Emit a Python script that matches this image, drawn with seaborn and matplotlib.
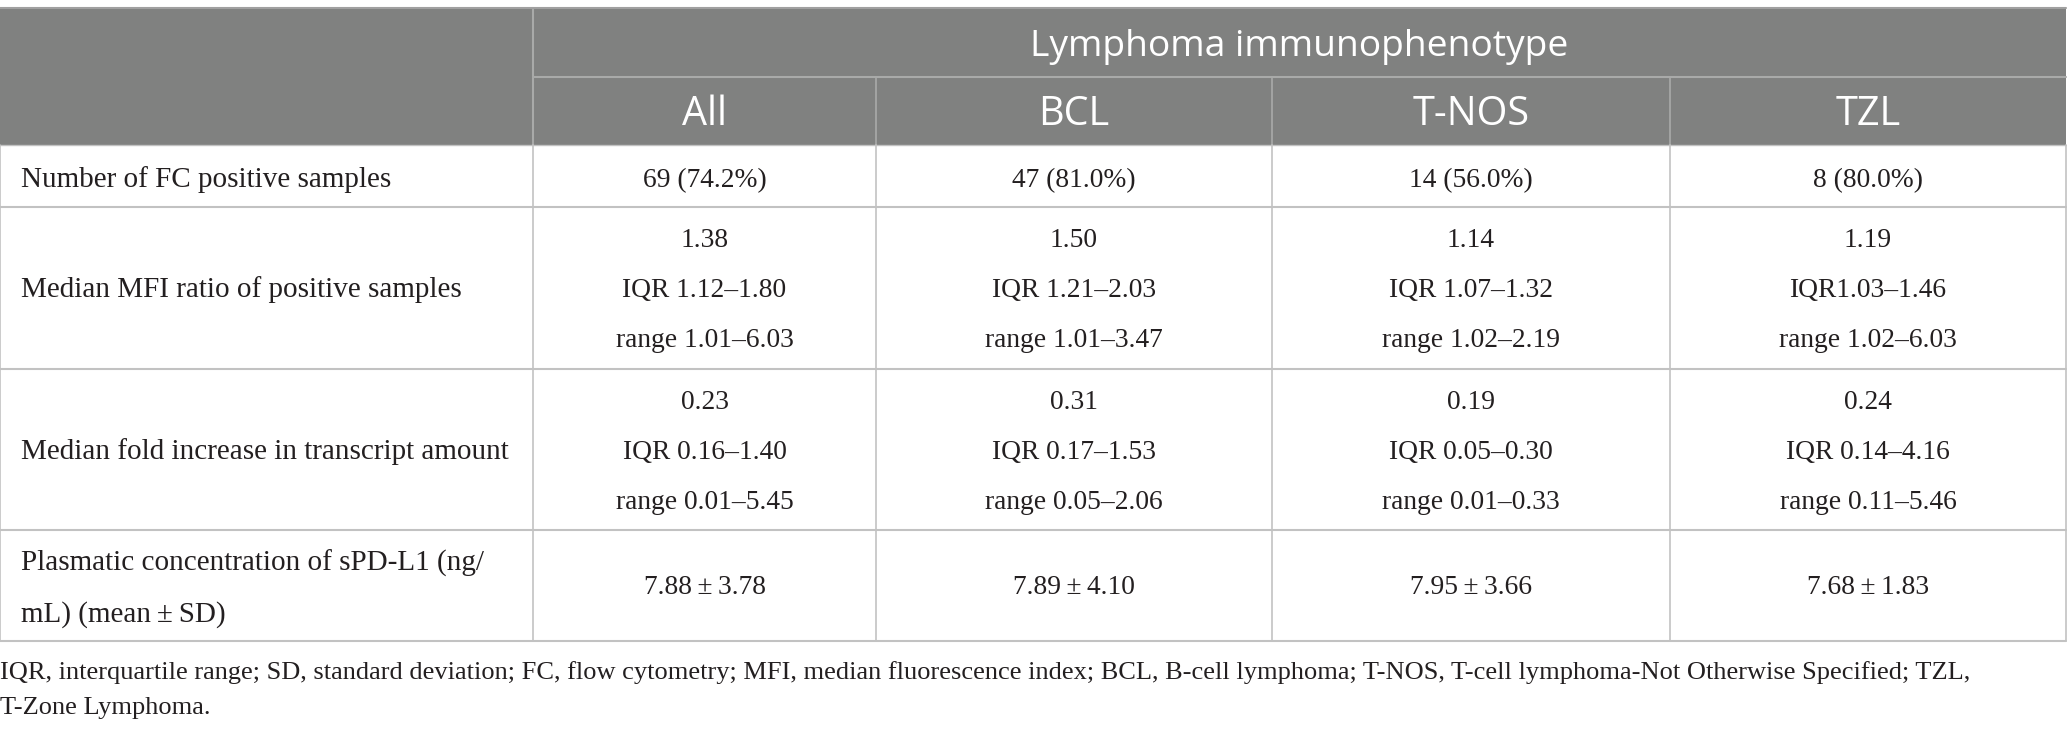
'''table of PD-L1 results by lymphoma immunophenotype'''
import matplotlib
matplotlib.use('Agg')
import matplotlib.pyplot as plt
from matplotlib.patches import Rectangle
import seaborn as sns

groups = ['All', 'BCL', 'T-NOS', 'TZL']
spanner = 'Lymphoma immunophenotype'
row_labels = ['Number of FC positive samples',
              'Median MFI ratio of positive samples',
              'Median fold increase in transcript amount',
              'Plasmatic concentration of sPD-L1 (ng/\nmL) (mean\u2009±\u2009SD)']
fc_pos_n = [69, 47, 14, 8]
fc_pos_pct = [74.2, 81.0, 56.0, 80.0]
mfi_median = [1.38, 1.50, 1.14, 1.19]
mfi_iqr = [(1.12, 1.80), (1.21, 2.03), (1.07, 1.32), (1.03, 1.46)]
mfi_range = [(1.01, 6.03), (1.01, 3.47), (1.02, 2.19), (1.02, 6.03)]
iqr_prefix = ['IQR ', 'IQR ', 'IQR ', 'IQR']
fold_median = [0.23, 0.31, 0.19, 0.24]
fold_iqr = [(0.16, 1.40), (0.17, 1.53), (0.05, 0.30), (0.14, 4.16)]
fold_range = [(0.01, 5.45), (0.05, 2.06), (0.01, 0.33), (0.11, 5.46)]
spdl1_mean = [7.88, 7.89, 7.95, 7.68]
spdl1_sd = [3.78, 4.10, 3.66, 1.83]
caption = ['IQR, interquartile range; SD, standard deviation; FC, flow cytometry; '
           'MFI, median fluorescence index; BCL, B-cell lymphoma; T-NOS, '
           'T-cell lymphoma-Not Otherwise Specified; TZL,',
           'T-Zone Lymphoma.']


def main():
    '''
    main
    '''
    sns.set_theme(style='white')
    serif = ['Liberation Serif', 'DejaVu Serif']
    sans = ['Open Sans', 'DejaVu Sans']

    head_bg = '#808180'
    head_line = '#a9aaa9'
    grid = '#c2c2c2'
    ink = '#231f20'
    body_fs = 19.8
    label_fs = 21.0
    note_fs = 19.0
    head_fs = 28.5
    span_fs = 26.8

    col_x = [0, 533, 876, 1272, 1670, 2066]
    row_y = [8, 77, 145, 207, 369, 530, 641]

    fig = plt.figure(figsize=(20.67, 7.35), dpi=100)
    ax = fig.add_axes([0, 0, 1, 1])
    ax.set_xlim(0, 2067)
    ax.set_ylim(735, 0)
    ax.axis('off')

    # header block
    ax.add_patch(Rectangle((col_x[0], row_y[0]), col_x[-1] - col_x[0],
                           row_y[2] - row_y[0], color=head_bg, lw=0))
    ax.plot([col_x[1], col_x[-1]], [row_y[1], row_y[1]], color=head_line, lw=1.5)
    ax.plot([col_x[1], col_x[1]], [row_y[0], row_y[2]], color=head_line, lw=1.5)
    for x in col_x[2:-1]:
        ax.plot([x, x], [row_y[1], row_y[2]], color=head_line, lw=1.2)
    ax.plot([col_x[0], col_x[-1]], [row_y[0], row_y[0]], color='#a0a0a0', lw=1.5)

    # body grid
    for y in row_y[3:]:
        ax.plot([col_x[0], col_x[-1]], [y, y], color=grid, lw=1.5)
    ax.plot([col_x[0], col_x[-1]], [row_y[2], row_y[2]], color=grid, lw=1.0)
    for x in col_x:
        ax.plot([x, x], [row_y[2], row_y[-1]], color=grid, lw=1.2)

    # header text
    mid = (col_x[1] + col_x[-1]) / 2
    ax.text(mid, 56, spanner, ha='center', va='baseline', color='white',
            fontsize=span_fs, family=sans)
    for i, g in enumerate(groups):
        cx = (col_x[i + 1] + col_x[i + 2]) / 2
        ax.text(cx, 125, g, ha='center', va='baseline', color='white',
                fontsize=head_fs, family=sans)

    # row labels
    label_base = [187, 297, 459]
    for lab, yb in zip(row_labels[:3], label_base):
        ax.text(21, yb, lab, ha='left', va='baseline', color=ink,
                fontsize=label_fs, family=serif)
    lab4 = row_labels[3].split('\n')
    ax.text(21, 571, lab4[0], ha='left', va='baseline', color=ink,
            fontsize=label_fs, family=serif)
    ax.text(21, 622, lab4[1], ha='left', va='baseline', color=ink,
            fontsize=label_fs, family=serif)

    # cell values
    for i in range(len(groups)):
        cx = (col_x[i + 1] + col_x[i + 2]) / 2
        cells = [
            (187, f'{fc_pos_n[i]} ({fc_pos_pct[i]:.1f}%)'),
            (247, f'{mfi_median[i]:.2f}'),
            (297, f'{iqr_prefix[i]}{mfi_iqr[i][0]:.2f}–{mfi_iqr[i][1]:.2f}'),
            (347, f'range {mfi_range[i][0]:.2f}–{mfi_range[i][1]:.2f}'),
            (409, f'{fold_median[i]:.2f}'),
            (459, f'IQR {fold_iqr[i][0]:.2f}–{fold_iqr[i][1]:.2f}'),
            (509, f'range {fold_range[i][0]:.2f}–{fold_range[i][1]:.2f}'),
            (594, f'{spdl1_mean[i]:.2f}\u2009±\u2009{spdl1_sd[i]:.2f}'),
        ]
        for yb, txt in cells:
            ax.text(cx, yb, txt, ha='center', va='baseline', color=ink,
                    fontsize=body_fs, family=serif)

    # footnote
    ax.text(0, 679, caption[0], ha='left', va='baseline', color=ink,
            fontsize=note_fs, family=serif)
    ax.text(0, 714, caption[1], ha='left', va='baseline', color=ink,
            fontsize=note_fs, family=serif)

    fig.savefig('out.png', dpi=100, facecolor='white')


if __name__ == '__main__':
    main()
